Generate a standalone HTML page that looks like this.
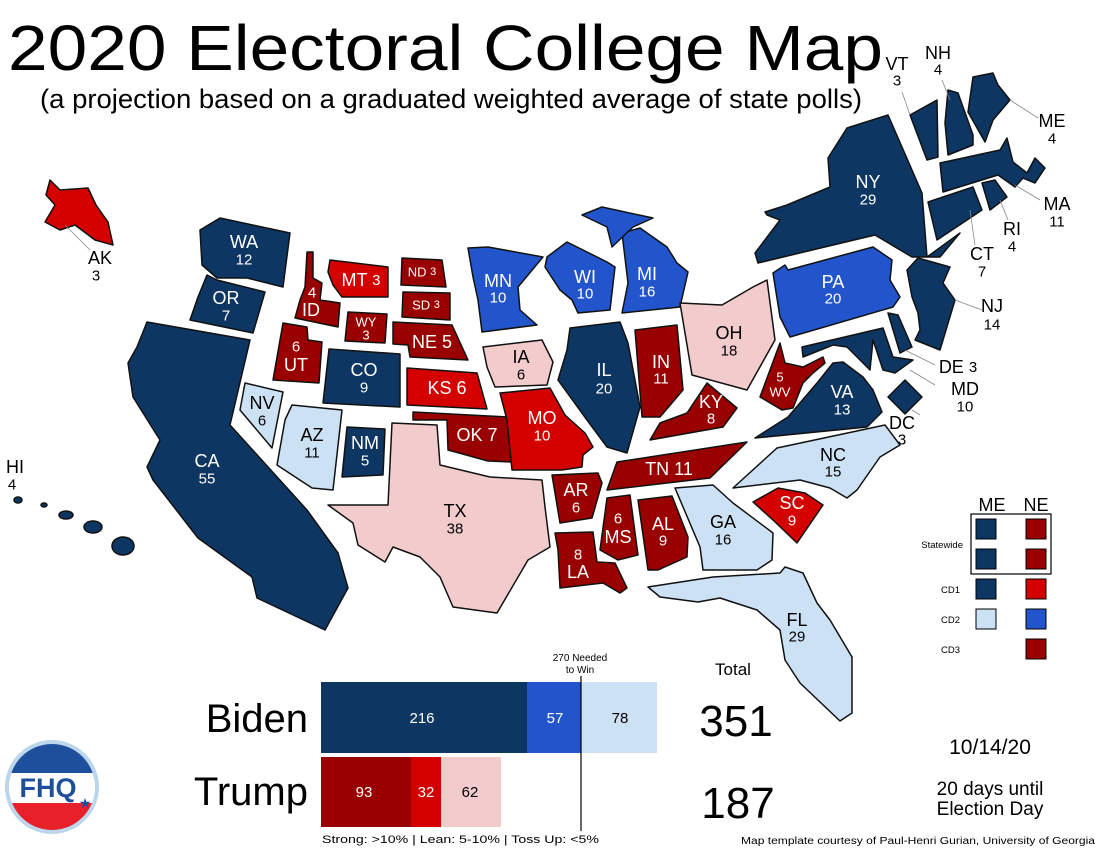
<!DOCTYPE html>
<html><head><meta charset="utf-8"><style>
html,body{margin:0;padding:0;background:#fff;}
svg{display:block;font-family:"Liberation Sans",sans-serif;}
.s{stroke:#111;stroke-width:1.5;stroke-linejoin:round}
.n{fill:#0e3663}.b{fill:#2255cc}.l{fill:#cde1f4}.d{fill:#990000}.r{fill:#d40000}.p{fill:#f2cccc}
.w{fill:#fff}.k{fill:#000}
.lab{font-size:18px;text-anchor:middle;dominant-baseline:central}
.num{font-size:15px;text-anchor:middle;dominant-baseline:central}
.sm{font-size:13px;text-anchor:middle;dominant-baseline:central}
.ld{stroke:#888;stroke-width:0.8;fill:none}
</style></head><body>
<svg width="1099" height="849" viewBox="0 0 1099 849" xmlns="http://www.w3.org/2000/svg">
<text x="8" y="70" font-size="64" textLength="875" lengthAdjust="spacingAndGlyphs">2020 Electoral College Map</text>
<text x="40" y="108" font-size="27" textLength="822" lengthAdjust="spacingAndGlyphs">(a projection based on a graduated weighted average of state polls)</text>

<!-- West -->
<polygon class="s n" points="200,230 220,218 290,233 283,287 247,278 217,278 202,265"/>
<polygon class="s n" points="207,275 217,280 265,292 253,333 190,320 198,297"/>
<polygon class="s n" points="147,322 250,340 230,425 307,510 338,553 348,588 325,630 257,598 252,577 198,538 153,480 147,467 160,440 133,397 128,363 137,347"/>
<polygon class="s l" points="245,383 283,392 272,448 240,410"/>
<polygon class="s l" points="292,405 342,410 333,490 312,488 277,465 285,420"/>
<polygon class="s n" points="347,427 385,429 383,475 342,477"/>
<polygon class="s d" points="283,323 307,327 308,340 322,342 319,383 273,380"/>
<polygon class="s d" points="307,252 313,252 313,278 322,283 320,300 340,303 338,327 295,318 300,300 305,287"/>
<polygon class="s r" points="330,260 388,267 388,297 342,297 333,285 328,272"/>
<polygon class="s d" points="348,312 387,314 385,343 345,341"/>
<polygon class="s n" points="329,349 400,354 400,407 323,403"/>
<polygon class="s d" points="402,258 442,260 446,287 401,285"/>
<polygon class="s d" points="403,292 450,293 450,320 402,317"/>
<polygon class="s d" points="393,322 452,325 468,360 410,357 408,345 393,344"/>
<polygon class="s r" points="407,368 477,373 487,409 407,405"/>
<polygon class="s d" points="413,412 508,417 512,462 488,461 448,450 447,420 413,420"/>
<polygon class="s p" points="392,423 437,425 440,465 490,477 542,480 545,507 550,547 528,560 497,613 453,607 440,577 420,557 393,547 385,562 358,545 353,523 328,505 388,505"/>
<!-- Midwest -->
<polygon class="s b" points="468,248 488,247 543,257 518,287 520,310 537,325 482,332 478,300 473,277"/>
<polygon class="s p" points="483,347 542,340 553,362 547,385 495,387 487,367"/>
<polygon class="s r" points="500,393 550,388 565,415 585,433 593,447 583,455 582,467 562,470 512,470 507,420"/>
<polygon class="s b" points="547,257 567,242 607,262 615,267 610,310 578,313 572,300 560,290 545,267"/>
<polygon class="s b" points="622,233 640,228 667,247 677,263 688,272 680,307 622,313 628,283"/>
<polygon class="s b" points="582,215 602,207 653,218 633,227 612,247 607,227"/>
<polygon class="s n" points="570,328 620,322 628,343 640,407 627,453 607,447 587,420 558,380 567,350"/>
<polygon class="s d" points="635,330 677,325 683,390 660,417 642,417"/>
<polygon class="s p" points="680,303 722,305 753,287 767,280 775,340 747,390 692,375"/>
<polygon class="s d" points="650,440 660,423 687,413 707,383 737,408 723,427"/>
<!-- South -->
<polygon class="s d" points="617,462 747,442 710,478 607,490"/>
<polygon class="s d" points="552,475 598,473 602,483 592,518 560,523"/>
<polygon class="s d" points="555,533 593,532 597,562 615,563 627,588 620,593 603,583 560,588 558,550"/>
<polygon class="s d" points="607,498 630,495 638,555 618,560 600,550"/>
<polygon class="s d" points="638,500 672,496 688,537 687,557 658,570 648,570"/>
<polygon class="s l" points="675,488 713,485 733,503 773,533 772,560 757,570 703,570 700,547"/>
<polygon class="s l" points="648,587 713,577 780,573 785,567 803,573 817,603 830,620 852,657 852,713 840,721 800,683 785,660 780,630 757,610 720,598 698,602 660,597"/>
<polygon class="s r" points="753,502 778,488 805,493 823,505 797,543 773,520"/>
<polygon class="s l" points="733,488 777,448 885,425 900,445 880,457 857,490 847,498 830,488 800,480"/>
<polygon class="s n" points="755,438 788,417 817,383 833,363 843,362 863,377 873,390 882,412 867,427"/>
<polygon class="s d" points="760,397 780,343 785,363 803,367 823,357 825,363 813,373 803,383 793,408 782,410"/>
<!-- Northeast -->
<polygon class="s b" points="773,273 785,265 788,270 873,247 892,260 890,280 900,297 893,307 790,337 780,317"/>
<polygon class="s n" points="802,347 883,328 893,357 913,360 895,373 883,370 873,340 870,370 847,347 833,345 803,357"/>
<polygon class="s n" points="888,313 898,315 912,347 900,353"/>
<polygon class="s n" points="905,380 922,397 905,414 888,397"/>
<polygon class="s n" points="907,270 918,258 950,267 943,283 955,300 940,350 915,340 920,330 918,313 912,297"/>
<polygon class="s n" points="755,253 780,220 767,215 765,212 787,205 830,187 828,158 847,128 888,115 922,193 927,257 960,233 940,257 912,257 875,235 758,263"/>
<polygon class="s n" points="910,115 937,100 938,157 927,160"/>
<polygon class="s n" points="948,90 958,93 973,135 973,145 948,155 945,123"/>
<polygon class="s n" points="973,77 993,73 998,85 1010,100 993,120 985,142 968,112"/>
<polygon class="s n" points="940,163 1000,150 1007,138 1013,162 1027,173 1035,158 1045,168 1035,183 1023,178 1015,187 998,175 943,192"/>
<polygon class="s n" points="928,202 973,187 982,210 937,240"/>
<polygon class="s n" points="982,183 995,180 1007,197 990,210"/>
<!-- AK / HI -->
<polygon class="s r" points="50,180 60,190 88,188 96,205 108,222 113,245 95,240 75,225 60,230 45,222 55,205 46,195"/>
<g class="s n">
<ellipse cx="18" cy="500" rx="4" ry="3"/><ellipse cx="44" cy="505" rx="3" ry="2"/>
<ellipse cx="66" cy="515" rx="7" ry="4"/><ellipse cx="93" cy="527" rx="9" ry="6"/>
<ellipse cx="123" cy="546" rx="11" ry="9"/>
</g>

<!-- leader lines -->
<g class="ld">
<line x1="902" y1="92" x2="910" y2="115"/><line x1="942" y1="80" x2="950" y2="100"/>
<line x1="1010" y1="100" x2="1038" y2="118"/><line x1="1015" y1="185" x2="1040" y2="200"/>
<line x1="1000" y1="200" x2="1008" y2="220"/><line x1="970" y1="210" x2="975" y2="245"/>
<line x1="955" y1="300" x2="982" y2="310"/><line x1="905" y1="350" x2="935" y2="365"/>
<line x1="910" y1="370" x2="935" y2="385"/><line x1="912" y1="410" x2="920" y2="415"/>
<line x1="65" y1="225" x2="90" y2="250"/>
</g>

<!-- labels -->
<g class="w">
<text class="lab" x="244" y="242">WA</text><text class="num" x="244" y="260">12</text>
<text class="lab" x="226" y="298">OR</text><text class="num" x="226" y="316">7</text>
<text class="lab" x="207" y="461">CA</text><text class="num" x="207" y="479">55</text>
<text class="num" x="296" y="347">6</text><text class="lab" x="296" y="365">UT</text>
<text class="num" x="312" y="293">4</text><text class="lab" x="311" y="310">ID</text>
<text class="lab" x="361" y="280">MT <tspan font-size="15">3</tspan></text>
<text class="sm" x="366" y="322">WY</text><text class="sm" x="366" y="335" font-size="11">3</text>
<text class="lab" x="364" y="370">CO</text><text class="num" x="364" y="388">9</text>
<text class="lab" x="365" y="443">NM</text><text class="num" x="365" y="461">5</text>
<text class="sm" x="422" y="272">ND <tspan font-size="11">3</tspan></text>
<text class="sm" x="426" y="305">SD <tspan font-size="11">3</tspan></text>
<text class="lab" x="432" y="342">NE 5</text>
<text class="lab" x="447" y="388">KS 6</text>
<text class="lab" x="477" y="435">OK 7</text>
<text class="lab" x="498" y="281">MN</text><text class="num" x="498" y="298">10</text>
<text class="lab" x="542" y="418">MO</text><text class="num" x="542" y="436">10</text>
<text class="lab" x="585" y="277">WI</text><text class="num" x="585" y="294">10</text>
<text class="lab" x="647" y="274">MI</text><text class="num" x="647" y="292">16</text>
<text class="lab" x="604" y="370">IL</text><text class="num" x="604" y="389">20</text>
<text class="lab" x="661" y="362">IN</text><text class="num" x="661" y="379">11</text>
<text class="lab" x="711" y="402">KY</text><text class="num" x="711" y="419">8</text>
<text class="lab" x="669" y="469">TN 11</text>
<text class="lab" x="576" y="490">AR</text><text class="num" x="576" y="508">6</text>
<text class="num" x="578" y="555">8</text><text class="lab" x="578" y="572">LA</text>
<text class="num" x="618" y="519">6</text><text class="lab" x="618" y="537">MS</text>
<text class="lab" x="663" y="524">AL</text><text class="num" x="663" y="541">9</text>
<text class="lab" x="792" y="503">SC</text><text class="num" x="792" y="521">9</text>
<text class="lab" x="842" y="392">VA</text><text class="num" x="842" y="410">13</text>
<text class="sm" x="780" y="377">5</text><text class="sm" x="780" y="392">WV</text>
<text class="lab" x="833" y="282">PA</text><text class="num" x="833" y="299">20</text>
<text class="lab" x="868" y="182">NY</text><text class="num" x="868" y="200">29</text>
</g>
<g class="k">
<text class="lab" x="262" y="403">NV</text><text class="num" x="262" y="421">6</text>
<text class="lab" x="312" y="435">AZ</text><text class="num" x="312" y="453">11</text>
<text class="lab" x="455" y="511">TX</text><text class="num" x="455" y="529">38</text>
<text class="lab" x="521" y="357">IA</text><text class="num" x="521" y="375">6</text>
<text class="lab" x="729" y="333">OH</text><text class="num" x="729" y="351">18</text>
<text class="lab" x="723" y="522">GA</text><text class="num" x="723" y="540">16</text>
<text class="lab" x="797" y="620">FL</text><text class="num" x="797" y="637">29</text>
<text class="lab" x="833" y="455">NC</text><text class="num" x="833" y="472">15</text>
<text class="lab" x="897" y="64">VT</text><text class="num" x="897" y="81">3</text>
<text class="lab" x="938" y="53">NH</text><text class="num" x="938" y="70">4</text>
<text class="lab" x="1052" y="121">ME</text><text class="num" x="1052" y="139">4</text>
<text class="lab" x="1057" y="204">MA</text><text class="num" x="1057" y="222">11</text>
<text class="lab" x="1012" y="229">RI</text><text class="num" x="1012" y="247">4</text>
<text class="lab" x="982" y="254">CT</text><text class="num" x="982" y="272">7</text>
<text class="lab" x="992" y="306">NJ</text><text class="num" x="992" y="325">14</text>
<text class="lab" x="958" y="367">DE <tspan font-size="15">3</tspan></text>
<text class="lab" x="965" y="389">MD</text><text class="num" x="965" y="407">10</text>
<text class="lab" x="902" y="423">DC</text><text class="num" x="902" y="440">3</text>
<text class="lab" x="100" y="258">AK</text><text class="num" x="96" y="276">3</text>
<text class="lab" x="15" y="467">HI</text><text class="num" x="12" y="485">4</text>
</g>

<!-- ME/NE legend -->
<text x="992" y="511" font-size="18" text-anchor="middle">ME</text>
<text x="1036" y="511" font-size="18" text-anchor="middle">NE</text>
<rect x="971" y="514" width="80" height="60" fill="none" stroke="#000" stroke-width="1.2"/>
<g stroke="#000" stroke-width="1">
<rect x="976" y="519" width="20" height="20" class="n"/><rect x="1026" y="519" width="20" height="20" class="d"/>
<rect x="976" y="549" width="20" height="20" class="n"/><rect x="1026" y="549" width="20" height="20" class="d"/>
<rect x="976" y="579" width="20" height="20" class="n"/><rect x="1026" y="579" width="20" height="20" class="r"/>
<rect x="976" y="609" width="20" height="20" class="l"/><rect x="1026" y="609" width="20" height="20" class="b"/>
<rect x="1026" y="639" width="20" height="20" class="d"/>
</g>
<g font-size="9.5" text-anchor="end">
<text x="963" y="548">Statewide</text><text x="960" y="593">CD1</text>
<text x="960" y="623">CD2</text><text x="960" y="653">CD3</text>
</g>

<!-- bars -->
<rect x="321" y="682" width="206" height="71" class="n"/>
<rect x="527" y="682" width="54" height="71" class="b"/>
<rect x="581" y="682" width="76" height="71" class="l"/>
<rect x="321" y="757" width="90" height="70" class="d"/>
<rect x="411" y="757" width="30" height="70" class="r"/>
<rect x="441" y="757" width="60" height="70" class="p"/>
<line x1="581" y1="676" x2="581" y2="831" stroke="#000" stroke-width="1.2"/>
<g font-size="15" text-anchor="middle">
<text x="422" y="723" fill="#fff">216</text><text x="555" y="723" fill="#fff">57</text><text x="620" y="723">78</text>
<text x="364" y="797" fill="#fff">93</text><text x="426" y="797" fill="#fff">32</text><text x="470" y="797">62</text>
</g>
<text x="580" y="661" font-size="10" text-anchor="middle">270 Needed</text>
<text x="580" y="673" font-size="10" text-anchor="middle">to Win</text>
<text x="308" y="732" font-size="40" text-anchor="end">Biden</text>
<text x="308" y="805" font-size="40" text-anchor="end">Trump</text>
<text x="322" y="843" font-size="11" textLength="277" lengthAdjust="spacingAndGlyphs">Strong: &gt;10%  |  Lean: 5-10%  |  Toss Up: &lt;5%</text>
<text x="733" y="675" font-size="17" text-anchor="middle">Total</text>
<text x="736" y="736" font-size="44" text-anchor="middle">351</text>
<text x="738" y="818" font-size="44" text-anchor="middle">187</text>
<text x="990" y="754" font-size="21" text-anchor="middle">10/14/20</text>
<text x="990" y="795" font-size="19" text-anchor="middle">20 days until</text>
<text x="990" y="815" font-size="19" text-anchor="middle">Election Day</text>
<text x="741" y="844" font-size="10" textLength="354" lengthAdjust="spacingAndGlyphs">Map template courtesy of Paul-Henri Gurian, University of Georgia</text>

<!-- FHQ logo -->
<defs><clipPath id="c"><circle cx="52" cy="787" r="43"/></clipPath></defs>
<circle cx="52" cy="787" r="47" fill="#bcd6ec"/>
<g clip-path="url(#c)">
<rect x="0" y="740" width="110" height="40" fill="#1d4f9c"/>
<rect x="0" y="773" width="110" height="30" fill="#fff"/>
<rect x="0" y="803" width="110" height="40" fill="#e8202a"/>
</g>
<text x="48" y="797" font-size="27" font-weight="bold" fill="#1d4f9c" text-anchor="middle">FHQ</text>
<text x="85" y="808" font-size="14" fill="#1d4f9c" text-anchor="middle">★</text>
</svg>
</body></html>
